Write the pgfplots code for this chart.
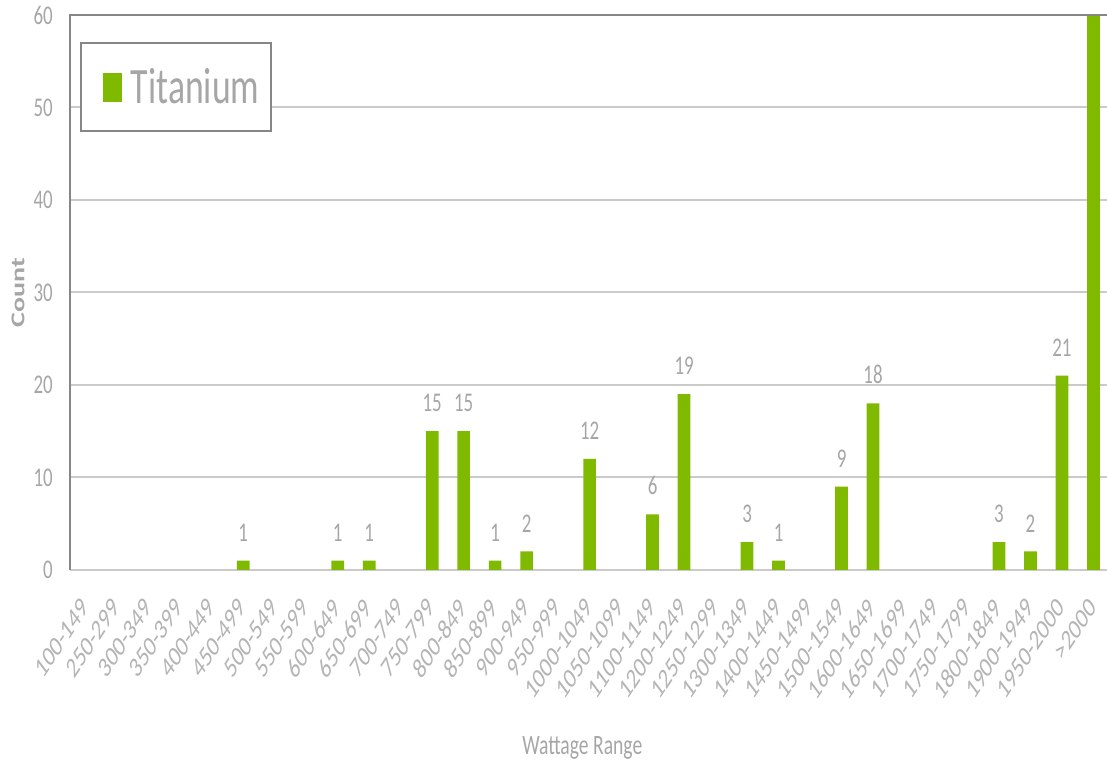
\documentclass[border=0pt]{standalone}
\usepackage{fontspec}
\setmainfont{Carlito}
\usepackage{graphicx}
\usepackage{pgfplots}
\pgfplotsset{compat=1.18}
\definecolor{barcolor}{HTML}{7FBA00}
\definecolor{axisgray}{HTML}{868686}
\definecolor{gridgray}{HTML}{CACACA}
\definecolor{textgray}{HTML}{A6A6A6}
\definecolor{xtickgray}{HTML}{B4B4B4}
\newcommand{\xl}[1]{\scalebox{0.7}[1]{\rotatebox{47}{\fontsize{14.4}{16}\selectfont #1}}}
\begin{document}
\begin{tikzpicture}
\path[use as bounding box] (0,0) rectangle (553.5pt,382.5pt);
\begin{axis}[
  at={(35pt,97.5pt)}, anchor=south west,
  scale only axis, width=518.5pt, height=277.5pt,
  xmin=-0.5, xmax=32.43, ymin=0, ymax=60,
  xtick={0,...,32},
  xticklabels={\xl{100-149},\xl{250-299},\xl{300-349},\xl{350-399},\xl{400-449},\xl{450-499},\xl{500-549},\xl{550-599},\xl{600-649},\xl{650-699},\xl{700-749},\xl{750-799},\xl{800-849},\xl{850-899},\xl{900-949},\xl{950-999},\xl{1000-1049},\xl{1050-1099},\xl{1100-1149},\xl{1200-1249},\xl{1250-1299},\xl{1300-1349},\xl{1400-1449},\xl{1450-1499},\xl{1500-1549},\xl{1600-1649},\xl{1650-1699},\xl{1700-1749},\xl{1750-1799},\xl{1800-1849},\xl{1900-1949},\xl{1950-2000},\xl{>2000}},
  ytick={0,10,...,60},
  /pgf/number format/assume math mode=true,
  ymajorgrids, major grid style={gridgray, line width=1pt},
  major tick length=0pt,
  axis line style={draw=none},
  ybar, bar width=6.35pt,
  yticklabel style={xshift=-8.5pt, xscale=0.7, anchor=east, inner sep=0pt, font=\fontsize{13.5}{16}\selectfont, text=textgray},
  xticklabel style={yshift=-13pt, xshift=2pt, anchor=north east, inner sep=0pt, text=xtickgray},
  xlabel={Wattage Range},
  xlabel style={at={(axis description cs:0.494,-0.32)}, anchor=center, xscale=0.7, font=\fontsize{14}{16}\selectfont, text=textgray},
  ylabel={\bfseries Count},
  ylabel style={at={(axis description cs:-0.0501,0.5)}, anchor=center, yscale=0.7, font=\fontsize{14}{16}\selectfont, text=textgray},
  legend style={at={(axis description cs:0.0096,0.951)}, anchor=north west, draw=axisgray, line width=1pt,
    font=\fontsize{25.5}{30}\selectfont, text=textgray, nodes={inner sep=0pt},
    inner xsep=6pt, inner ysep=12.5pt, column sep=4.5pt},
  extra description/.code={
    \draw[axisgray, line width=1pt] (0,0) -- (0,1) -- (1,1);
  },
]
\addplot[fill=barcolor, draw=none, bar shift=0pt,
  nodes near coords,
  every node near coord/.append style={yshift=9.5pt, xscale=0.7, anchor=south, inner sep=0pt, font=\fontsize{13.5}{16}\selectfont, text=textgray},
  legend image code/.code={\path (-5pt,0pt); \fill[barcolor] (0pt,-7.25pt) rectangle (9.5pt,7.25pt);}]
  coordinates {(5,1) (8,1) (9,1) (11,15) (12,15) (13,1) (14,2) (16,12) (18,6) (19,19) (21,3) (22,1) (24,9) (25,18) (29,3) (30,2) (31,21)};
\addlegendentry{\scalebox{0.7}[1]{Titanium}}
\addplot[fill=barcolor, draw=none, bar shift=0pt, forget plot]
  coordinates {(32,80)};
\end{axis}
\end{tikzpicture}
\end{document}
